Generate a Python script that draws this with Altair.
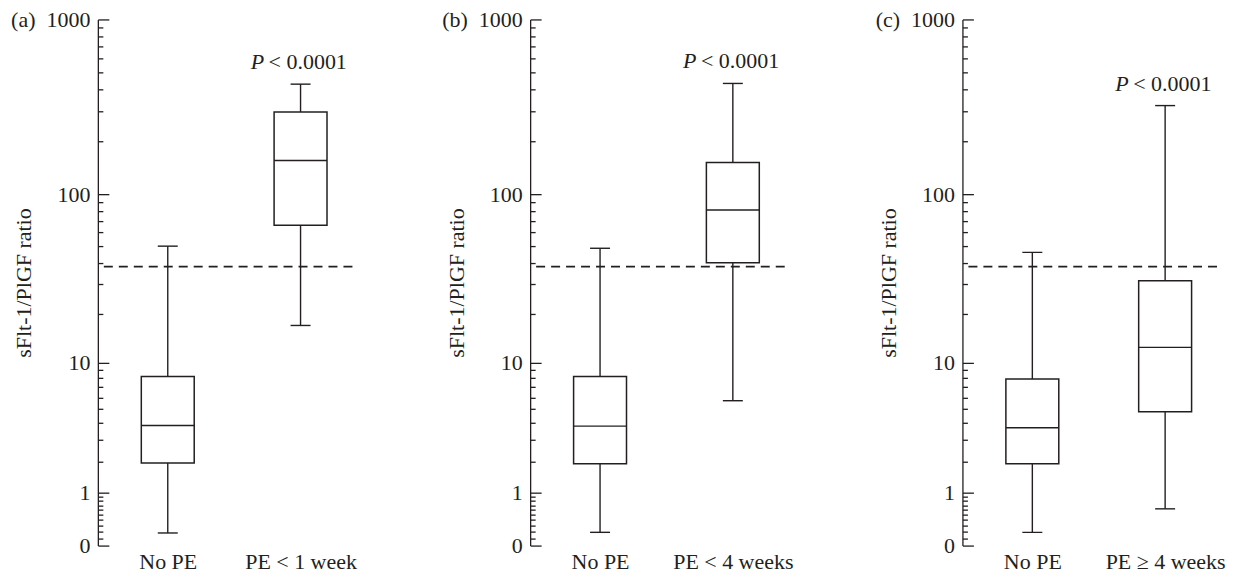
import altair as alt
import pandas as pd

FONT = "Liberation Serif"
INK = "#231f20"
FS = 22

# ---- data ----
cutoff = 38

groups_a = ["No PE", "PE < 1 week"]
low_a = [0.18, 17]
q1_a = [1.96, 66]
med_a = [3.84, 156]
q3_a = [8.2, 296]
high_a = [50, 427]

groups_b = ["No PE", "PE < 4 weeks"]
low_b = [0.19, 5.7]
q1_b = [1.93, 40]
med_b = [3.8, 81]
q3_b = [8.2, 152]
high_b = [48.6, 431]

groups_c = ["No PE", "PE \u2265 4 weeks"]
low_c = [0.19, 0.62]
q1_c = [1.93, 4.8]
med_c = [3.7, 12.5]
q3_c = [7.9, 31.4]
high_c = [46, 322]

major_ticks = [0, 1, 10, 100, 1000]
minor_ticks = [0.1, 0.2, 0.3, 0.4, 0.5, 0.6, 0.7, 0.8, 0.9,
               2, 3, 4, 5, 6, 7, 8, 9,
               20, 30, 40, 50, 60, 70, 80, 90,
               200, 300, 400, 500, 600, 700, 800, 900]
p_label = "< 0.0001"

W = 255
H = 527


def panel(letter, groups, low, q1, med, q3, high):
    df = pd.DataFrame(dict(group=groups, low=low, q1=q1, med=med, q3=q3, high=high))
    yscale = alt.Scale(type="symlog", constant=1, domain=[0, 1000], nice=False)
    xenc = alt.X(
        "group:N", sort=groups,
        scale=alt.Scale(type="point", padding=0.4586, align=0.574),
        axis=alt.Axis(title=None, labelAngle=0, domain=False, ticks=False,
                      labelPadding=6),
    )
    sp = "\u2002"
    left_axis = alt.Axis(
        orient="left", values=major_ticks, ticks=False, tickSize=0, labelPadding=8,
        labelExpr=f"datum.value == 1000 ? '({letter}){sp}1000' : '' + datum.value",
        title="sFlt-1/PlGF ratio", titleX=-67, titleY=H / 2,
        titleBaseline="alphabetic", grid=False,
    )
    inner_axis = alt.Axis(
        orient="right", offset=-W, values=major_ticks + minor_ticks,
        labels=False, domain=False, grid=False, title=None, ticks=True,
        tickSize={"condition": {"test": "indexof([0, 1, 10, 100, 1000], datum.value) >= 0",
                                "value": 11}, "value": 5},
    )
    base = alt.Chart(df).encode(x=xenc)
    whisk = base.mark_rule(color=INK, strokeWidth=1.4).encode(
        y=alt.Y("low:Q", scale=yscale, axis=left_axis), y2="high:Q")
    box = base.mark_bar(size=53, fill="white", stroke=INK, strokeWidth=1.5).encode(
        y=alt.Y("q1:Q", scale=yscale, axis=None), y2="q3:Q")
    med_t = base.mark_tick(size=53, thickness=1.4, color=INK, opacity=1).encode(
        y=alt.Y("med:Q", scale=yscale, axis=None))
    cap_lo = base.mark_tick(size=20, thickness=1.4, color=INK, opacity=1).encode(
        y=alt.Y("low:Q", scale=yscale, axis=None))
    cap_hi = base.mark_tick(size=20, thickness=1.4, color=INK, opacity=1).encode(
        y=alt.Y("high:Q", scale=yscale, axis=None))
    dashed = alt.Chart(pd.DataFrame({"cutoff": [cutoff]})).mark_rule(
        strokeDash=[9, 6], strokeWidth=1.6, color=INK).encode(
        y=alt.Y("cutoff:Q", scale=yscale, axis=inner_axis))
    ptop = alt.Chart(df.iloc[[1]]).encode(
        x=xenc, y=alt.Y("high:Q", scale=yscale, axis=None))
    p_it = ptop.mark_text(text="P", font=FONT, fontStyle="italic", fontSize=FS,
                          align="left", baseline="middle", dx=-50, dy=-22, color=INK)
    p_rest = ptop.mark_text(text=p_label, font=FONT, fontSize=FS,
                            align="left", baseline="middle", dx=-32, dy=-22, color=INK)
    return alt.layer(whisk, box, med_t, cap_lo, cap_hi, dashed, p_it, p_rest).resolve_axis(
        y="independent").properties(width=W, height=H)


chart = alt.hconcat(
    panel("a", groups_a, low_a, q1_a, med_a, q3_a, high_a),
    panel("b", groups_b, low_b, q1_b, med_b, q3_b, high_b),
    panel("c", groups_c, low_c, q1_c, med_c, q3_c, high_c),
    spacing=178, bounds="flush",
).properties(padding={"left": 2, "top": 0, "right": 0, "bottom": 0}).configure(
    background="white").configure_view(stroke=None).configure_axis(
    labelFont=FONT, labelFontSize=FS, labelColor=INK,
    titleFont=FONT, titleFontSize=FS, titleFontWeight="normal", titleColor=INK,
    domainColor=INK, domainWidth=1.3, tickColor=INK, tickWidth=1.3,
)

chart.save("out.html", embed_options={"renderer": "svg", "actions": False})
